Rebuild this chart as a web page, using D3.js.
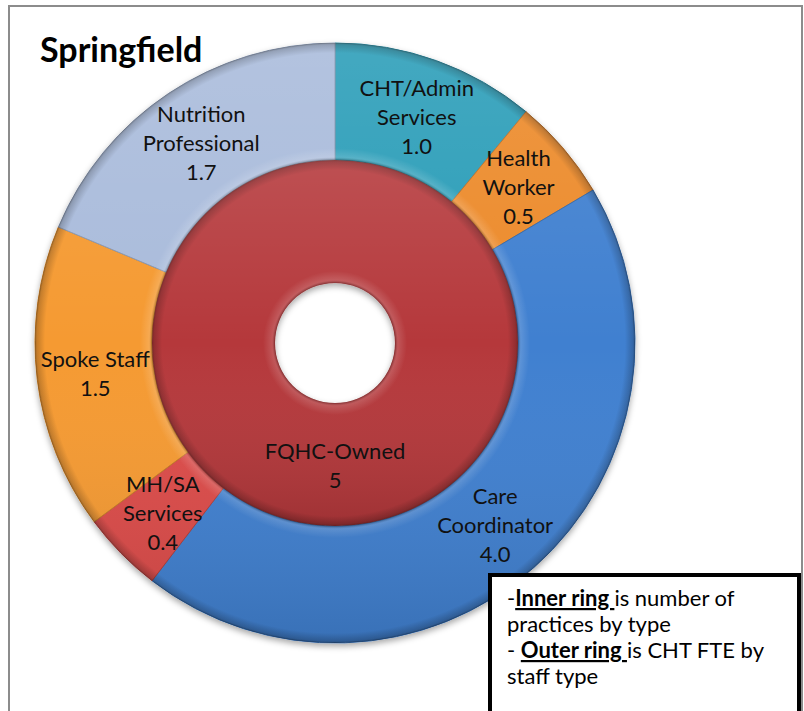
<!DOCTYPE html>
<html>
<head>
<meta charset="utf-8">
<script src="https://cdn.jsdelivr.net/npm/d3@7"></script>
<style>
  body { margin: 0; background: #fff; }
  svg { display: block; font-family: Lato, "Open Sans", sans-serif; }
</style>
</head>
<body>
<script>

// outer ring: CHT FTE by staff type
var staffTypes = ["CHT/Admin\nServices", "Health\nWorker", "Care\nCoordinator", "MH/SA\nServices", "Spoke Staff", "Nutrition\nProfessional"];
var staffFte = [1.0, 0.5, 4.0, 0.4, 1.5, 1.7];
var staffColors = ["#2b9db8", "#ec8a2c", "#3f80d0", "#dc4b48", "#f59a30", "#a9bbdb"];

// inner ring: number of practices by type
var practiceTypes = ["FQHC-Owned"];
var practiceCounts = [5];
var practiceColors = ["#b5393a"];

var legendLines = [
  [["-", false], ["Inner ring ", true], ["is number of", false]],
  [["practices by type", false]],
  [["- ", false], ["Outer ring ", true], ["is CHT FTE by", false]],
  [["staff type", false]]
];

var W = 804, H = 711;
var cx = 335, cy = 343;
var rHole = 60, rMid = 183, rOut = 300;

var svg = d3.select("body").append("svg")
  .attr("width", W)
  .attr("height", H);

var defs = svg.append("defs");

var shadow = defs.append("filter").attr("id", "shadow")
  .attr("x", "-10%").attr("y", "-10%").attr("width", "120%").attr("height", "120%");
shadow.append("feDropShadow")
  .attr("dx", 0).attr("dy", 3).attr("stdDeviation", 3)
  .attr("flood-color", "#000").attr("flood-opacity", 0.35);

// frame
svg.append("rect")
  .attr("x", 9).attr("y", 6)
  .attr("width", 793).attr("height", H)
  .attr("fill", "none")
  .attr("stroke", "#8c8c8c")
  .attr("stroke-width", 2);

// bevel-ish radial shading, one per ring (centred on the chart group origin)
function bevel(id, r0, r1) {
  var g = defs.append("radialGradient").attr("id", id)
    .attr("gradientUnits", "userSpaceOnUse")
    .attr("cx", 0).attr("cy", 0).attr("r", r1);
  var f = function(r) { return (r / r1 * 100) + "%"; };
  [[r0, "#000", 0.3], [r0 + 3, "#fff", 0.15], [r0 + 12, "#fff", 0], [r1 - 10, "#000", 0], [r1 - 2, "#000", 0.2], [r1, "#000", 0.35]]
    .forEach(function(s) {
      g.append("stop").attr("offset", f(s[0])).attr("stop-color", s[1]).attr("stop-opacity", s[2]);
    });
}
bevel("bevelOuter", rMid, rOut);
bevel("bevelInner", rHole, rMid);

var light = defs.append("linearGradient").attr("id", "light")
  .attr("x1", 0).attr("y1", 0).attr("x2", 0).attr("y2", 1);
light.append("stop").attr("offset", "0%").attr("stop-color", "#fff").attr("stop-opacity", 0.12);
light.append("stop").attr("offset", "50%").attr("stop-color", "#fff").attr("stop-opacity", 0);
light.append("stop").attr("offset", "100%").attr("stop-color", "#000").attr("stop-opacity", 0.12);

var pie = d3.pie().sort(null).value(function(d) { return d; });

var outerArc = d3.arc().innerRadius(rMid).outerRadius(rOut);
var innerArc = d3.arc().innerRadius(rHole).outerRadius(rMid);
var outerLabelArc = d3.arc().innerRadius((rMid + rOut) / 2).outerRadius((rMid + rOut) / 2);

var chart = svg.append("g").attr("transform", "translate(" + cx + "," + cy + ")");

var outerData = pie(staffFte);
var innerData = pie(practiceCounts);

var ringG = chart.append("g").attr("filter", "url(#shadow)");

ringG.selectAll("path.outer")
  .data(outerData)
  .enter().append("path")
  .attr("class", "outer")
  .attr("d", outerArc)
  .attr("fill", function(d, i) { return staffColors[i]; })
  .attr("stroke", function(d, i) { return d3.color(staffColors[i]).darker(0.6); })
  .attr("stroke-width", 1);

ringG.selectAll("path.inner")
  .data(innerData)
  .enter().append("path")
  .attr("class", "inner")
  .attr("d", innerArc)
  .attr("fill", function(d, i) { return practiceColors[i]; });

// shading overlays
var fullOuter = d3.arc().innerRadius(rMid).outerRadius(rOut).startAngle(0).endAngle(2 * Math.PI);
var fullInner = d3.arc().innerRadius(rHole).outerRadius(rMid).startAngle(0).endAngle(2 * Math.PI);
chart.append("path").attr("d", fullOuter()).attr("fill", "url(#bevelOuter)");
chart.append("path").attr("d", fullInner()).attr("fill", "url(#bevelInner)");
chart.append("path").attr("d", fullOuter()).attr("fill", "url(#light)");
chart.append("path").attr("d", fullInner()).attr("fill", "url(#light)");

// labels
var lh = 29;
function addLabel(pos, lines) {
  var t = chart.append("text")
    .attr("text-anchor", "middle")
    .attr("font-size", 22)
    .attr("fill", "#111");
  var y0 = pos[1] - (lines.length - 1) * lh / 2 + 9;
  lines.forEach(function(s, k) {
    t.append("tspan").attr("x", pos[0]).attr("y", y0 + k * lh).text(s);
  });
}

outerData.forEach(function(d, i) {
  var lines = staffTypes[i].split("\n").concat([d3.format(".1f")(staffFte[i])]);
  addLabel(outerLabelArc.centroid(d), lines);
});

innerData.forEach(function(d, i) {
  // single full-circle slice: Excel puts its label at the bottom
  var pos = [0, (rHole + rMid) / 2];
  addLabel(pos, [practiceTypes[i], String(practiceCounts[i])]);
});

// title
svg.append("text")
  .attr("x", 40).attr("y", 62)
  .attr("font-size", 34)
  .attr("font-weight", "bold")
  .attr("fill", "#000")
  .text("Springfield");

// legend box
svg.append("rect")
  .attr("x", 490).attr("y", 575)
  .attr("width", 309).attr("height", 150)
  .attr("fill", "#fff")
  .attr("stroke", "#000")
  .attr("stroke-width", 4);

var legend = svg.append("text")
  .attr("font-size", 22)
  .attr("fill", "#000")
  .style("white-space", "pre");

legendLines.forEach(function(line, k) {
  var row = legend.append("tspan").attr("x", 507).attr("y", 606 + k * 26);
  line.forEach(function(part) {
    var span = row.append("tspan").text(part[0]);
    if (part[1]) {
      span.attr("font-weight", "bold").style("text-decoration", "underline");
    }
  });
});

</script>
</body>
</html>
